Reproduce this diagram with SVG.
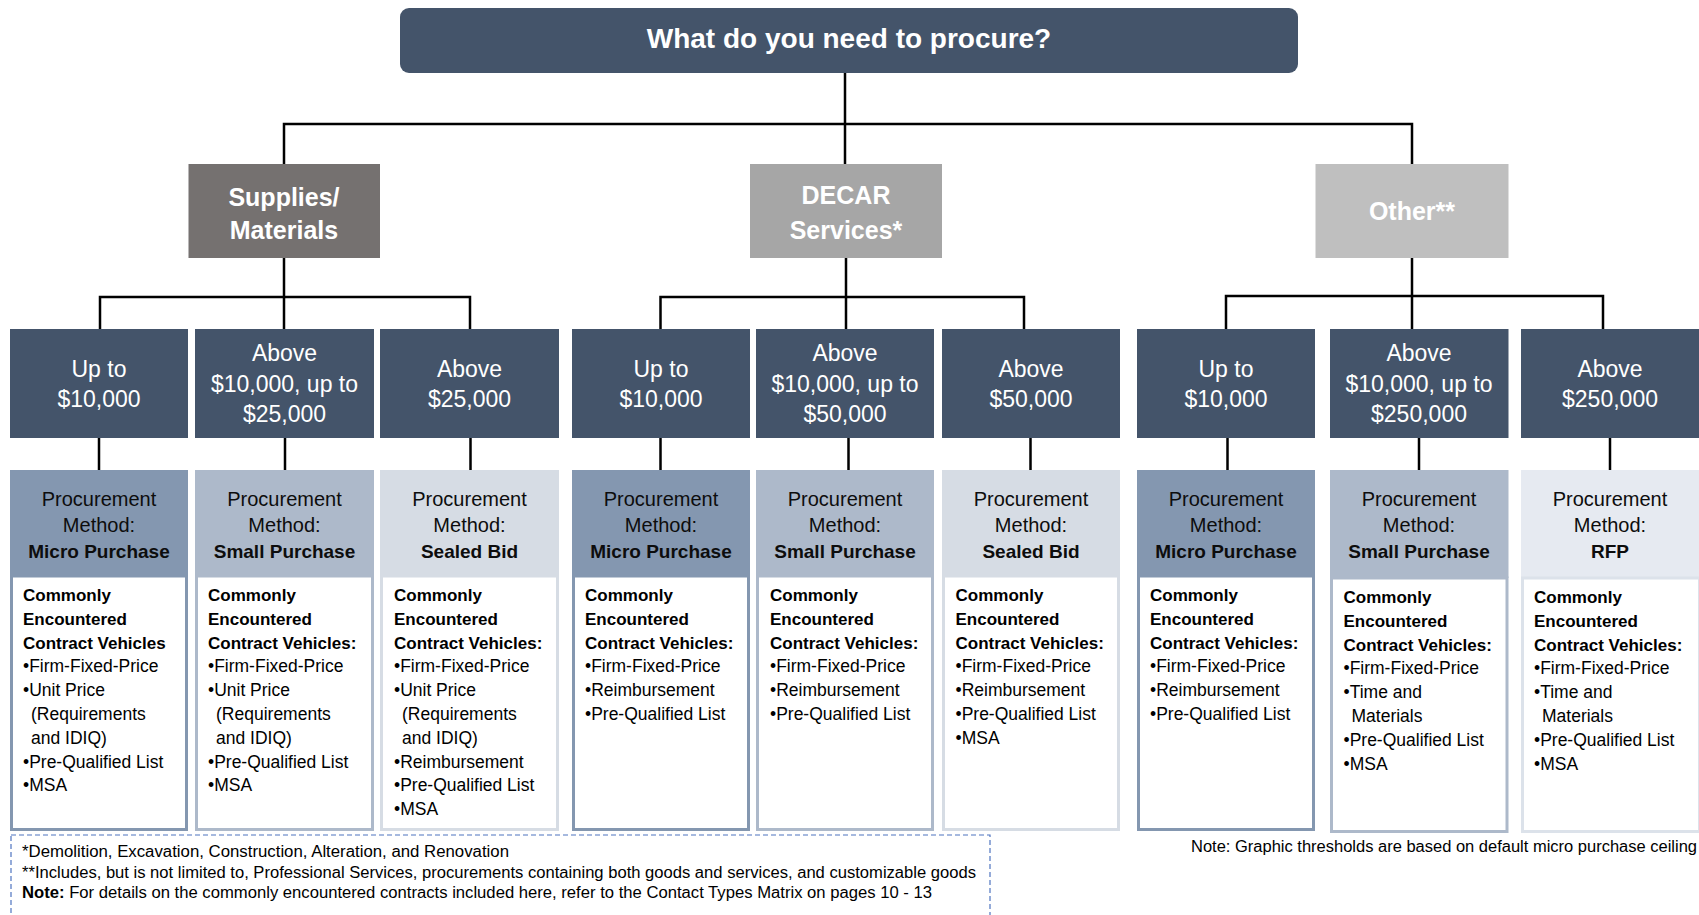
<svg xmlns="http://www.w3.org/2000/svg" width="1699" height="915" viewBox="0 0 1699 915">
<style>
text{font-family:'Liberation Sans',Arial,sans-serif}
.conn{stroke:#000;stroke-width:2.5;fill:none}
.root{fill:#44546A}
.rootT{font-size:28px;font-weight:bold;fill:#fff;text-anchor:middle}
.catT{font-size:25px;font-weight:bold;fill:#fff;text-anchor:middle}
.thr{fill:#44546A}
.thrT{font-size:23px;fill:#fff;text-anchor:middle}
.mh{font-size:20px;fill:#0d0d0d;text-anchor:middle}
.mhb{font-size:19px;font-weight:bold}
.body{fill:#fff;stroke-width:3}
.bd{font-size:17.5px;fill:#000}
.bdb{font-size:17px;font-weight:bold}
.micro{fill:#8497B0}.bmicro{stroke:#8497B0}
.small{fill:#ADB9CA}.bsmall{stroke:#ADB9CA}
.sealed{fill:#D6DCE4}.bsealed{stroke:#D6DCE4}
.rfp{fill:#E6EAF1}.brfp{stroke:#DCE2EA}
.foot{font-size:16px;fill:#000}
</style>

<g id="connectors">
<path class="conn" d="M845 73V164M284 164V124H1412V164"/>
<path class="conn" d="M284 258V329M100 329V297H470V329"/>
<path class="conn" d="M846 258V329M660.5 329V297H1024V329"/>
<path class="conn" d="M1412 258V329M1226 329V296H1603V329"/>
<path class="conn" d="M99 438V470M285 438V470M470.5 438V470M660.5 438V470M848.5 438V470M1030.5 438V470M1227.5 438V470M1419 438V470M1610 438V470"/>
</g>

<g id="root">
<rect class="root" x="400" y="8" width="898" height="65" rx="9"/>
<text class="rootT" x="849" y="48">What do you need to procure?</text>
</g>

<g id="cat-supplies">
<rect x="188.5" y="164" width="191.5" height="94" fill="#757170"/>
<text class="catT" x="284" y="206">Supplies/</text>
<text class="catT" x="284" y="239">Materials</text>
</g>
<g id="cat-decar">
<rect x="750" y="164" width="192" height="94" fill="#A6A6A6"/>
<text class="catT" x="846" y="204">DECAR</text>
<text class="catT" x="846" y="239">Services*</text>
</g>
<g id="cat-other">
<rect x="1315.5" y="164" width="193" height="94" fill="#BFBFBF"/>
<text class="catT" x="1412" y="220">Other**</text>
</g>

<!-- Threshold nodes -->
<g id="s-thr1"><rect class="thr" x="10" y="329" width="178" height="109"/>
<text class="thrT" x="99" y="377">Up to</text><text class="thrT" x="99" y="407">$10,000</text></g>
<g id="s-thr2"><rect class="thr" x="195" y="329" width="179" height="109"/>
<text class="thrT" x="284.5" y="361">Above</text><text class="thrT" x="284.5" y="392">$10,000, up to</text><text class="thrT" x="284.5" y="422">$25,000</text></g>
<g id="s-thr3"><rect class="thr" x="380" y="329" width="179" height="109"/>
<text class="thrT" x="469.5" y="377">Above</text><text class="thrT" x="469.5" y="407">$25,000</text></g>

<g id="d-thr1"><rect class="thr" x="572" y="329" width="178" height="109"/>
<text class="thrT" x="661" y="377">Up to</text><text class="thrT" x="661" y="407">$10,000</text></g>
<g id="d-thr2"><rect class="thr" x="756" y="329" width="178" height="109"/>
<text class="thrT" x="845" y="361">Above</text><text class="thrT" x="845" y="392">$10,000, up to</text><text class="thrT" x="845" y="422">$50,000</text></g>
<g id="d-thr3"><rect class="thr" x="942" y="329" width="178" height="109"/>
<text class="thrT" x="1031" y="377">Above</text><text class="thrT" x="1031" y="407">$50,000</text></g>

<g id="o-thr1"><rect class="thr" x="1137" y="329" width="178" height="109"/>
<text class="thrT" x="1226" y="377">Up to</text><text class="thrT" x="1226" y="407">$10,000</text></g>
<g id="o-thr2"><rect class="thr" x="1330" y="329" width="178.5" height="109"/>
<text class="thrT" x="1419" y="361">Above</text><text class="thrT" x="1419" y="392">$10,000, up to</text><text class="thrT" x="1419" y="422">$250,000</text></g>
<g id="o-thr3"><rect class="thr" x="1521" y="329" width="180" height="109"/>
<text class="thrT" x="1610" y="377">Above</text><text class="thrT" x="1610" y="407">$250,000</text></g>

<!-- Method nodes: Supplies -->
<g id="s-m1">
<rect class="micro" x="10" y="470" width="178" height="106"/>
<rect class="body bmicro" x="11.5" y="576" width="175" height="253.5"/>
<text class="mh" x="99" y="506">Procurement</text><text class="mh" x="99" y="532">Method:</text><text class="mh mhb" x="99" y="557.5">Micro Purchase</text>
<text class="bd"><tspan class="bdb" x="23" y="601">Commonly</tspan><tspan class="bdb" x="23" dy="23.8">Encountered</tspan><tspan class="bdb" x="23" dy="23.8">Contract Vehicles</tspan><tspan x="23" dy="23.8">•Firm-Fixed-Price</tspan><tspan x="23" dy="23.8">•Unit Price</tspan><tspan x="31" dy="23.8">(Requirements</tspan><tspan x="31" dy="23.8">and IDIQ)</tspan><tspan x="23" dy="23.8">•Pre-Qualified List</tspan><tspan x="23" dy="23.8">•MSA</tspan></text>
</g>
<g id="s-m2">
<rect class="small" x="195" y="470" width="179" height="106"/>
<rect class="body bsmall" x="196.5" y="576" width="176" height="253.5"/>
<text class="mh" x="284.5" y="506">Procurement</text><text class="mh" x="284.5" y="532">Method:</text><text class="mh mhb" x="284.5" y="557.5">Small Purchase</text>
<text class="bd"><tspan class="bdb" x="208" y="601">Commonly</tspan><tspan class="bdb" x="208" dy="23.8">Encountered</tspan><tspan class="bdb" x="208" dy="23.8">Contract Vehicles:</tspan><tspan x="208" dy="23.8">•Firm-Fixed-Price</tspan><tspan x="208" dy="23.8">•Unit Price</tspan><tspan x="216" dy="23.8">(Requirements</tspan><tspan x="216" dy="23.8">and IDIQ)</tspan><tspan x="208" dy="23.8">•Pre-Qualified List</tspan><tspan x="208" dy="23.8">•MSA</tspan></text>
</g>
<g id="s-m3">
<rect class="sealed" x="380" y="470" width="179" height="106"/>
<rect class="body bsealed" x="381.5" y="576" width="176" height="253.5"/>
<text class="mh" x="469.5" y="506">Procurement</text><text class="mh" x="469.5" y="532">Method:</text><text class="mh mhb" x="469.5" y="557.5">Sealed Bid</text>
<text class="bd"><tspan class="bdb" x="394" y="601">Commonly</tspan><tspan class="bdb" x="394" dy="23.8">Encountered</tspan><tspan class="bdb" x="394" dy="23.8">Contract Vehicles:</tspan><tspan x="394" dy="23.8">•Firm-Fixed-Price</tspan><tspan x="394" dy="23.8">•Unit Price</tspan><tspan x="402" dy="23.8">(Requirements</tspan><tspan x="402" dy="23.8">and IDIQ)</tspan><tspan x="394" dy="23.8">•Reimbursement</tspan><tspan x="394" dy="23.8">•Pre-Qualified List</tspan><tspan x="394" dy="23.8">•MSA</tspan></text>
</g>

<!-- Method nodes: DECAR -->
<g id="d-m1">
<rect class="micro" x="572" y="470" width="178" height="106"/>
<rect class="body bmicro" x="573.5" y="576" width="175" height="253.5"/>
<text class="mh" x="661" y="506">Procurement</text><text class="mh" x="661" y="532">Method:</text><text class="mh mhb" x="661" y="557.5">Micro Purchase</text>
<text class="bd"><tspan class="bdb" x="585" y="601">Commonly</tspan><tspan class="bdb" x="585" dy="23.8">Encountered</tspan><tspan class="bdb" x="585" dy="23.8">Contract Vehicles:</tspan><tspan x="585" dy="23.8">•Firm-Fixed-Price</tspan><tspan x="585" dy="23.8">•Reimbursement</tspan><tspan x="585" dy="23.8">•Pre-Qualified List</tspan></text>
</g>
<g id="d-m2">
<rect class="small" x="756" y="470" width="178" height="106"/>
<rect class="body bsmall" x="757.5" y="576" width="175" height="253.5"/>
<text class="mh" x="845" y="506">Procurement</text><text class="mh" x="845" y="532">Method:</text><text class="mh mhb" x="845" y="557.5">Small Purchase</text>
<text class="bd"><tspan class="bdb" x="770" y="601">Commonly</tspan><tspan class="bdb" x="770" dy="23.8">Encountered</tspan><tspan class="bdb" x="770" dy="23.8">Contract Vehicles:</tspan><tspan x="770" dy="23.8">•Firm-Fixed-Price</tspan><tspan x="770" dy="23.8">•Reimbursement</tspan><tspan x="770" dy="23.8">•Pre-Qualified List</tspan></text>
</g>
<g id="d-m3">
<rect class="sealed" x="942" y="470" width="178" height="106"/>
<rect class="body bsealed" x="943.5" y="576" width="175" height="253.5"/>
<text class="mh" x="1031" y="506">Procurement</text><text class="mh" x="1031" y="532">Method:</text><text class="mh mhb" x="1031" y="557.5">Sealed Bid</text>
<text class="bd"><tspan class="bdb" x="955.5" y="601">Commonly</tspan><tspan class="bdb" x="955.5" dy="23.8">Encountered</tspan><tspan class="bdb" x="955.5" dy="23.8">Contract Vehicles:</tspan><tspan x="955.5" dy="23.8">•Firm-Fixed-Price</tspan><tspan x="955.5" dy="23.8">•Reimbursement</tspan><tspan x="955.5" dy="23.8">•Pre-Qualified List</tspan><tspan x="955.5" dy="23.8">•MSA</tspan></text>
</g>

<!-- Method nodes: Other -->
<g id="o-m1">
<rect class="micro" x="1137" y="470" width="178" height="106"/>
<rect class="body bmicro" x="1138.5" y="576" width="175" height="253.5"/>
<text class="mh" x="1226" y="506">Procurement</text><text class="mh" x="1226" y="532">Method:</text><text class="mh mhb" x="1226" y="557.5">Micro Purchase</text>
<text class="bd"><tspan class="bdb" x="1150" y="601">Commonly</tspan><tspan class="bdb" x="1150" dy="23.8">Encountered</tspan><tspan class="bdb" x="1150" dy="23.8">Contract Vehicles:</tspan><tspan x="1150" dy="23.8">•Firm-Fixed-Price</tspan><tspan x="1150" dy="23.8">•Reimbursement</tspan><tspan x="1150" dy="23.8">•Pre-Qualified List</tspan></text>
</g>
<g id="o-m2">
<rect class="small" x="1330" y="470" width="178.5" height="108"/>
<rect class="body bsmall" x="1331.5" y="578" width="175.5" height="253.5"/>
<text class="mh" x="1419" y="506">Procurement</text><text class="mh" x="1419" y="532">Method:</text><text class="mh mhb" x="1419" y="557.5">Small Purchase</text>
<text class="bd"><tspan class="bdb" x="1343.5" y="603">Commonly</tspan><tspan class="bdb" x="1343.5" dy="23.8">Encountered</tspan><tspan class="bdb" x="1343.5" dy="23.8">Contract Vehicles:</tspan><tspan x="1343.5" dy="23.8">•Firm-Fixed-Price</tspan><tspan x="1343.5" dy="23.8">•Time and</tspan><tspan x="1351.5" dy="23.8">Materials</tspan><tspan x="1343.5" dy="23.8">•Pre-Qualified List</tspan><tspan x="1343.5" dy="23.8">•MSA</tspan></text>
</g>
<g id="o-m3">
<rect class="rfp" x="1521" y="470" width="180" height="108"/>
<rect class="body brfp" x="1522.5" y="578" width="177" height="253.5"/>
<text class="mh" x="1610" y="506">Procurement</text><text class="mh" x="1610" y="532">Method:</text><text class="mh mhb" x="1610" y="557.5">RFP</text>
<text class="bd"><tspan class="bdb" x="1534" y="603">Commonly</tspan><tspan class="bdb" x="1534" dy="23.8">Encountered</tspan><tspan class="bdb" x="1534" dy="23.8">Contract Vehicles:</tspan><tspan x="1534" dy="23.8">•Firm-Fixed-Price</tspan><tspan x="1534" dy="23.8">•Time and</tspan><tspan x="1542" dy="23.8">Materials</tspan><tspan x="1534" dy="23.8">•Pre-Qualified List</tspan><tspan x="1534" dy="23.8">•MSA</tspan></text>
</g>

<!-- Footnotes -->
<g id="footnotes">
<rect x="11" y="835" width="979" height="100" fill="none" stroke="#4F74C0" stroke-width="1.2" stroke-dasharray="5 3"/>
<text class="foot" x="22" y="857" textLength="487" lengthAdjust="spacingAndGlyphs">*Demolition, Excavation, Construction, Alteration, and Renovation</text>
<text class="foot" x="22" y="878" textLength="954" lengthAdjust="spacingAndGlyphs">**Includes, but is not limited to, Professional Services, procurements containing both goods and services, and customizable goods</text>
<text class="foot" x="22" y="898" textLength="910" lengthAdjust="spacingAndGlyphs"><tspan font-weight="bold">Note:</tspan> For details on the commonly encountered contracts included here, refer to the Contact Types Matrix on pages 10 - 13</text>
</g>
<g id="note-right">
<text class="foot" x="1191" y="852" textLength="506" lengthAdjust="spacingAndGlyphs">Note: Graphic thresholds are based on default micro purchase ceiling</text>
</g>
</svg>
